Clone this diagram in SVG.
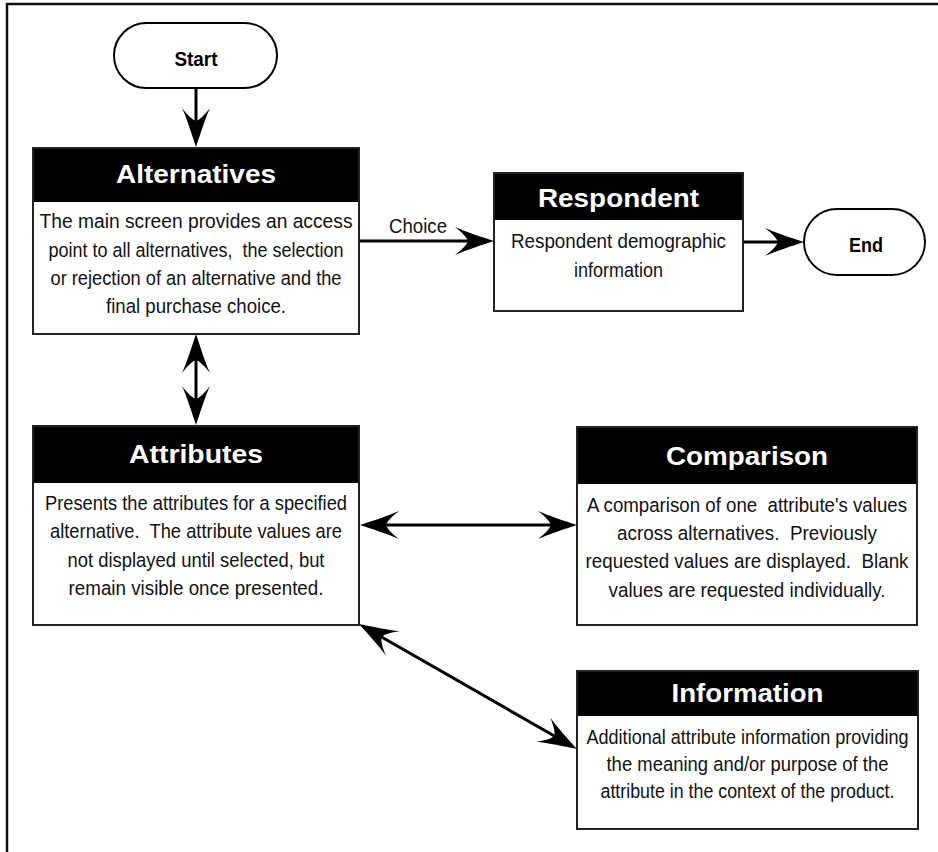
<svg xmlns="http://www.w3.org/2000/svg" width="938" height="852" viewBox="0 0 938 852">
<style>
.frame{fill:none;stroke:#111;stroke-width:2.5}
.box{fill:#fff;stroke:#222;stroke-width:2}
.hdr{fill:#000}
.pill{fill:#fff;stroke:#000;stroke-width:2}
.title{font-family:"Liberation Sans",Arial,sans-serif;font-weight:bold;font-size:26px;fill:#fff;text-anchor:middle}
.body{font-family:"Liberation Sans",Arial,sans-serif;font-size:20.5px;fill:#111;text-anchor:middle;white-space:pre}
.term{font-family:"Liberation Sans",Arial,sans-serif;font-weight:bold;font-size:21px;fill:#000;text-anchor:middle}
.conn{fill:none;stroke:#000;stroke-width:3}
</style>
<defs>
<marker id="ah" viewBox="-42 -17 43 34" refX="-20" refY="0" markerWidth="43" markerHeight="34" markerUnits="userSpaceOnUse" orient="auto-start-reverse" overflow="visible">
<path d="M0,0 C-12,-4 -28,-9 -39,-14 C-31,-8 -27,-3 -26,0 C-27,3 -31,8 -39,14 C-28,9 -12,4 0,0 Z" fill="#000"/>
</marker>
</defs>
<path class="frame" d="M7,852 L7,4 L938,4"/>
<g id="connectors">
<path class="conn" d="M196,88 L196,127" marker-end="url(#ah)"/>
<path class="conn" d="M196,354 L196,405" marker-start="url(#ah)" marker-end="url(#ah)"/>
<path class="conn" d="M359,241 L474,241" marker-end="url(#ah)"/>
<text class="body" x="418" y="233" textLength="58" lengthAdjust="spacingAndGlyphs">Choice</text>
<path class="conn" d="M743,242 L784,242" marker-end="url(#ah)"/>
<path class="conn" d="M380,525 L557,525" marker-start="url(#ah)" marker-end="url(#ah)"/>
<path class="conn" d="M376.35,633.95 L559.65,739.05" marker-start="url(#ah)" marker-end="url(#ah)"/>
</g>
<g id="start">
<rect class="pill" x="114" y="23" width="163" height="65" rx="32.5"/>
<text class="term" x="196" y="66" textLength="43" lengthAdjust="spacingAndGlyphs">Start</text>
</g>
<g id="alternatives">
<rect class="box" x="33" y="148" width="326" height="186"/>
<rect class="hdr" x="34" y="149" width="324" height="53"/>
<text class="title" x="196" y="183" textLength="160" lengthAdjust="spacingAndGlyphs">Alternatives</text>
<text class="body" x="196" y="228" textLength="313" lengthAdjust="spacingAndGlyphs">The main screen provides an access</text>
<text class="body" x="196" y="257" textLength="295" lengthAdjust="spacingAndGlyphs" xml:space="preserve">point to all alternatives,  the selection</text>
<text class="body" x="196" y="285" textLength="291" lengthAdjust="spacingAndGlyphs">or rejection of an alternative and the</text>
<text class="body" x="196" y="313" textLength="180" lengthAdjust="spacingAndGlyphs">final purchase choice.</text>
</g>
<g id="respondent">
<rect class="box" x="494" y="173" width="249" height="138"/>
<rect class="hdr" x="495" y="174" width="247" height="46"/>
<text class="title" x="618.5" y="207" textLength="161" lengthAdjust="spacingAndGlyphs">Respondent</text>
<text class="body" x="618.5" y="248" textLength="215" lengthAdjust="spacingAndGlyphs">Respondent demographic</text>
<text class="body" x="618.5" y="277" textLength="89" lengthAdjust="spacingAndGlyphs">information</text>
</g>
<g id="end">
<rect class="pill" x="804" y="209" width="121" height="66" rx="33"/>
<text class="term" x="866" y="252" textLength="34" lengthAdjust="spacingAndGlyphs">End</text>
</g>
<g id="attributes">
<rect class="box" x="33" y="426" width="326" height="199"/>
<rect class="hdr" x="34" y="427" width="324" height="56"/>
<text class="title" x="196" y="463" textLength="134" lengthAdjust="spacingAndGlyphs">Attributes</text>
<text class="body" x="196" y="510" textLength="302" lengthAdjust="spacingAndGlyphs">Presents the attributes for a specified</text>
<text class="body" x="196" y="538" textLength="292" lengthAdjust="spacingAndGlyphs" xml:space="preserve">alternative.  The attribute values are</text>
<text class="body" x="196" y="567" textLength="257" lengthAdjust="spacingAndGlyphs">not displayed until selected, but</text>
<text class="body" x="196" y="595" textLength="255" lengthAdjust="spacingAndGlyphs">remain visible once presented.</text>
</g>
<g id="comparison">
<rect class="box" x="577" y="427" width="340" height="198"/>
<rect class="hdr" x="578" y="428" width="338" height="56"/>
<text class="title" x="747" y="465" textLength="162" lengthAdjust="spacingAndGlyphs">Comparison</text>
<text class="body" x="747" y="512" textLength="320" lengthAdjust="spacingAndGlyphs" xml:space="preserve">A comparison of one  attribute's values</text>
<text class="body" x="747" y="540" textLength="260" lengthAdjust="spacingAndGlyphs" xml:space="preserve">across alternatives.  Previously</text>
<text class="body" x="747" y="568" textLength="323" lengthAdjust="spacingAndGlyphs" xml:space="preserve">requested values are displayed.  Blank</text>
<text class="body" x="747" y="597" textLength="277" lengthAdjust="spacingAndGlyphs">values are requested individually.</text>
</g>
<g id="information">
<rect class="box" x="577" y="671" width="341" height="158"/>
<rect class="hdr" x="578" y="672" width="339" height="44"/>
<text class="title" x="747.5" y="702" textLength="152" lengthAdjust="spacingAndGlyphs">Information</text>
<text class="body" x="747.5" y="744" textLength="322" lengthAdjust="spacingAndGlyphs">Additional attribute information providing</text>
<text class="body" x="747.5" y="771" textLength="282" lengthAdjust="spacingAndGlyphs">the meaning and/or purpose of the</text>
<text class="body" x="747.5" y="798" textLength="294" lengthAdjust="spacingAndGlyphs">attribute in the context of the product.</text>
</g>
</svg>
